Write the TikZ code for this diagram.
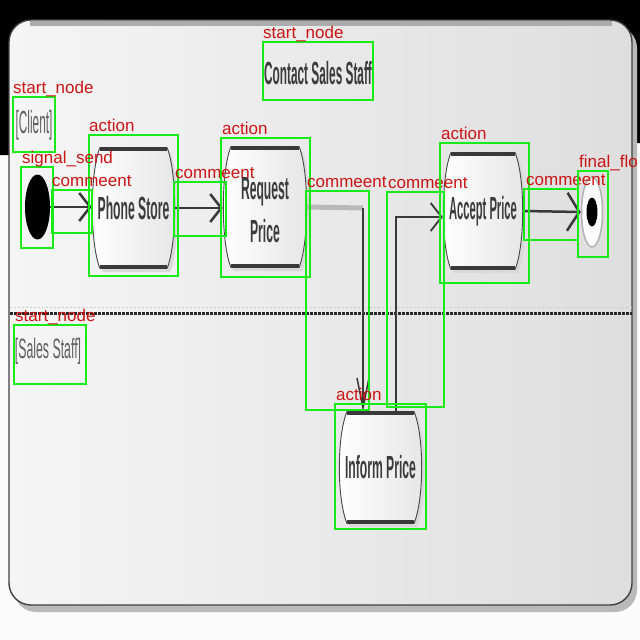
\documentclass[tikz,border=0pt]{standalone}
\usepackage{fontspec}
\usetikzlibrary{arrows.meta,calc,shapes.geometric}
\newfontfamily\dfont{Liberation Sans}
\newfontfamily\lfont{Liberation Sans}
\definecolor{annogreen}{RGB}{25,235,25}
\definecolor{annored}{RGB}{205,20,20}
\definecolor{panelL}{RGB}{245,245,245}
\definecolor{panelR}{RGB}{222,222,222}
\definecolor{inkgray}{RGB}{60,60,60}
\newcommand\nar[2][0.38]{\scalebox{#1}[1]{#2}}

% outline of an action: flat top and bottom, bulging sides
\newcommand\barrelpath[3]{%
  ($(#1.north west)+(8+#2,#3)$) -- ($(#1.north east)+(-8+#2,#3)$)
  .. controls ($(#1.north east)+(2+#2,26+#3)$) and ($(#1.south east)+(2+#2,-26+#3)$)
  .. ($(#1.south east)+(-8+#2,#3)$) -- ($(#1.south west)+(8+#2,#3)$)
  .. controls ($(#1.south west)+(-2+#2,-26+#3)$) and ($(#1.north west)+(-2+#2,26+#3)$)
  .. cycle}
\newcommand\barrel[1]{%
  \fill[gray!30] \barrelpath{#1}{3}{4};
  \path[left color=white, right color=gray!20, draw=gray!55!black, line width=0.9] \barrelpath{#1}{0}{0};
  \draw[line width=3.5, gray!45!black] ($(#1.north west)+(8,1)$) -- ($(#1.north east)+(-8,1)$);
  \draw[line width=3.5, gray!45!black] ($(#1.south west)+(8,-1)$) -- ($(#1.south east)+(-8,-1)$);
}

\tikzset{
  actbox/.style={rectangle, draw=none, inner sep=0, minimum width=#1},
  acttext/.style={font=\dfont\bfseries\fontsize{32}{43}\selectfont, text=inkgray, align=center, inner sep=0},
  lanetext/.style={font=\dfont\fontsize{32}{36}\selectfont, text=gray!75!black, inner sep=0},
  flow/.style={draw=gray!45!black, line width=2.5, -{Straight Barb[length=11pt,width=28pt]}},
  anno/.style={draw=annogreen, line width=2.5},
  lab/.style={font=\lfont\fontsize{17}{17}\selectfont, text=annored, anchor=base west, inner sep=0},
}

\begin{document}
\begin{tikzpicture}[x=1pt,y=-1pt]
\useasboundingbox (0,0) rectangle (640,640);
\clip (0,0) rectangle (640,640);

% page and dark surround
\fill[white!97!gray] (0,0) rectangle (640,640);
\fill[black] (0,0) -- (640,0) -- (640,143) -- (632,143) -- (632,45) -- (10,45) -- (10,155) -- (0,155) -- cycle;

% swimlane panel
\fill[gray!55, rounded corners=22] (14,26) rectangle (637,612);
\path[left color=panelL, right color=panelR, draw=gray!50!black, line width=1.4, rounded corners=22] (9,20) rectangle (632,605);
\draw[gray!65, line width=5] (30,23.5) -- (612,23.5);
\draw[gray!30!black, line width=3, dash pattern=on 2.5pt off 1.5pt] (10,313) -- (632,313);
\draw[gray!40, line width=1, dash pattern=on 2pt off 2pt] (10,307) -- (632,307);

% lane titles
\node[acttext] (contact) at (318,73) {\nar[0.37]{Contact Sales Staff}};
\node[lanetext] (client) at (34,125) {\nar[0.37]{[Client]}};
\node[lanetext, font=\dfont\fontsize{28}{30}\selectfont] (sales) at (48,351) {\nar[0.44]{[Sales Staff]}};

% start and end
\node[ellipse, fill=black, minimum width=25, minimum height=65, inner sep=0] (init) at (37.5,207) {};
\node[ellipse, draw=gray!60, line width=1.5, fill=white, minimum width=21, minimum height=70, inner sep=0] (fin) at (592,212) {};
\node[ellipse, fill=black, minimum width=11, minimum height=29, inner sep=0] (findot) at (fin) {};

% actions
\node[actbox=83, minimum height=120] (phone) at (133.5,208) {};
\node[actbox=84, minimum height=120] (req) at (265,207) {};
\node[actbox=80, minimum height=116] (acc) at (483,211) {};
\node[actbox=83, minimum height=111] (inf) at (380.5,467.5) {};
\barrel{phone}
\barrel{req}
\barrel{acc}
\barrel{inf}
\node[acttext] (phone-t) at (phone) {\nar{Phone Store}};
\node[acttext] (req-t) at (265,210) {\nar{Request}\\\nar{Price}};
\node[acttext] (acc-t) at (acc) {\nar[0.35]{Accept Price}};
\node[acttext] (inf-t) at (inf) {\nar{Inform Price}};

% flows
\coordinate (bend1) at (363,208);
\coordinate (bend2) at (396,217);
\draw[flow] (init.east) -- (init.east -| phone.west);
\draw[flow] (phone.east) -- (phone.east -| req.west);
\draw[gray!55, line width=5] (req.east) -- (bend1);
\draw[flow, line width=1.5, -{Straight Barb[length=30pt,width=12pt]}] (bend1) -- (bend1 |- inf.north);
\draw[flow, line width=1.8] (bend2 |- inf.north) -- (bend2) -- (bend2 -| acc.west);
\draw[flow, -{Straight Barb[length=12pt,width=38pt]}] (acc.east) -- (fin.west);

% annotation boxes
\draw[anno] (263,42) rectangle (373,100);
\node[lab] (a1) at (263,38) {start\_node};
\draw[anno] (13,97) rectangle (55,152);
\node[lab] (a2) at (13,93) {start\_node};
\draw[anno] (89,135) rectangle (178,276);
\node[lab] (a3) at (89,131) {action};
\draw[anno] (21,167) rectangle (53,248);
\node[lab] (a4) at (22,163) {signal\_send};
\draw[anno] (52,190) rectangle (92,233);
\node[lab] (a5) at (52,186) {commeent};
\draw[anno] (174,182) rectangle (226,236);
\node[lab] (a6) at (175,178) {commeent};
\draw[anno] (221,138) rectangle (310,277);
\node[lab] (a7) at (222,134) {action};
\draw[anno] (306,191) rectangle (369,410);
\node[lab] (a8) at (307,187) {commeent};
\draw[anno] (387,192) rectangle (444,407);
\node[lab] (a9) at (388,188) {commeent};
\draw[anno] (440,143) rectangle (529,283);
\node[lab] (a10) at (441,139) {action};
\draw[anno] (524,189) rectangle (578,240);
\node[lab] (a11) at (526,185) {commeent};
\draw[anno] (578,171) rectangle (608,257);
\node[lab] (a12) at (579,167) {final\_flo};
\draw[anno] (14,325) rectangle (86,384);
\node[lab] (a13) at (15,321) {start\_node};
\draw[anno] (335,404) rectangle (426,529);
\node[lab] (a14) at (336,400) {action};
\end{tikzpicture}
\end{document}
